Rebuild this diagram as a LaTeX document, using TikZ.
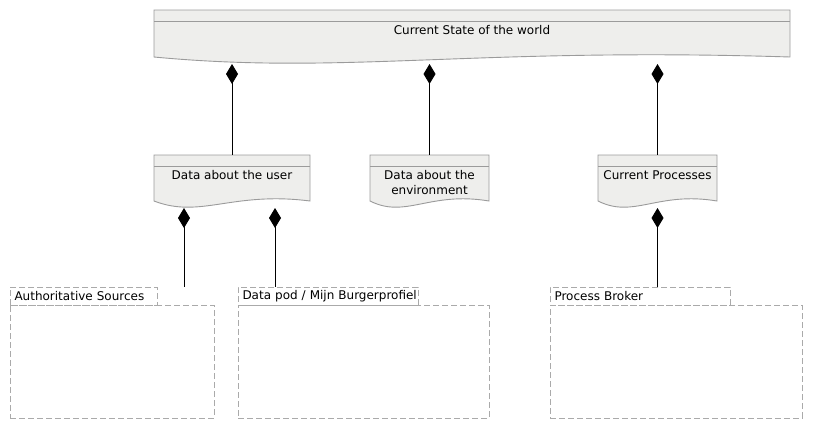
\documentclass[tikz,border=0pt]{standalone}
\usepackage{fontspec}
\setmainfont{DejaVu Sans}
\usepackage{xcolor}
\usetikzlibrary{
    arrows.meta,
    positioning,
    calc
}
\definecolor{docfill}{RGB}{238,238,236}
\definecolor{docborder}{RGB}{155,155,155}
\definecolor{pkgborder}{RGB}{170,170,170}

% outline of a document shape with a wavy lower edge
\newcommand{\wavedoc}[1]{%
    \filldraw[doc shape] let \p1=(#1.north west), \p2=(#1.south east) in
        (\x1,\y1) -- (\x2,\y1) -- (\x2,\y2+7pt)
        .. controls ({\x1+0.5*(\x2-\x1)},\y2+17pt) and ({\x1+0.3*(\x2-\x1)},\y2-11pt) .. (\x1,\y2+7pt) -- cycle;
    \draw[doc head] ([yshift=-11pt]#1.north west) -- ([yshift=-11pt]#1.north east);
}

\begin{document}
\begin{tikzpicture}[x=1pt,y=-1pt,
    doc box/.style={anchor=north west,inner sep=0pt,outer sep=0pt},
    doc shape/.style={fill=docfill,draw=docborder,line width=0.9pt},
    doc head/.style={draw=docborder,line width=0.9pt},
    doc text/.style={anchor=north,inner sep=0pt,align=center,font=\fontsize{12}{14.5}\selectfont},
    pkg body/.style={draw=pkgborder,dash pattern=on 6pt off 3pt,line width=0.8pt,anchor=north west,inner sep=0pt,outer sep=0pt},
    pkg tab/.style={pkg body,anchor=south west,minimum height=18pt,inner xsep=4.5pt,inner ysep=0pt,align=left,font=\fontsize{12}{14.5}\selectfont},
    comp/.style={{Diamond[length=20pt,width=12pt]}-,black,line width=0.9pt}]
    \useasboundingbox (0,0) rectangle (813,429);

    % documents
    \node[doc box,minimum width=636pt,minimum height=54pt] (world) at (154,10) {};
    \wavedoc{world}
    \node[doc text] (world-text) at ([yshift=-15.5pt]world.north) {Current State of the world};

    \node[doc box,minimum width=156pt,minimum height=53pt] (user) at (154,155) {};
    \wavedoc{user}
    \node[doc text] (user-text) at ([yshift=-15.5pt]user.north) {Data about the user};

    \node[doc box,minimum width=119pt,minimum height=53pt] (env) at (370,155) {};
    \wavedoc{env}
    \node[doc text] (env-text) at ([yshift=-15.5pt]env.north) {Data about the\\environment};

    \node[doc box,minimum width=119pt,minimum height=53pt] (proc) at (598,155) {};
    \wavedoc{proc}
    \node[doc text] (proc-text) at ([yshift=-15.5pt]proc.north) {Current Processes};

    % packages
    \node[pkg body,minimum width=204pt,minimum height=113pt] (auth) at (10,305) {};
    \node[pkg tab,text width=138pt] (auth-tab) at (auth.north west) {Authoritative Sources};
    \node[pkg body,minimum width=251pt,minimum height=113pt] (pod) at (238,305) {};
    \node[pkg tab,text width=171pt] (pod-tab) at (pod.north west) {\mbox{Data pod / Mijn Burgerprofiel}};
    \node[pkg body,minimum width=252pt,minimum height=113pt] (broker) at (550,305) {};
    \node[pkg tab,text width=171pt] (broker-tab) at (broker.north west) {Process Broker};

    % composition links
    \draw[comp] (world.south -| user.north) -- (user.north);
    \draw[comp] (world.south -| env.north) -- (env.north);
    \draw[comp] (world.south -| proc.north) -- (proc.north);
    \draw[comp] ([xshift=-48pt]user.south) -- ([xshift=-48pt]user.south |- auth-tab.north);
    \draw[comp] ([xshift=43pt]user.south) -- ([xshift=43pt]user.south |- pod-tab.north);
    \draw[comp] (proc.south) -- (proc.south |- broker-tab.north);
\end{tikzpicture}
\end{document}
